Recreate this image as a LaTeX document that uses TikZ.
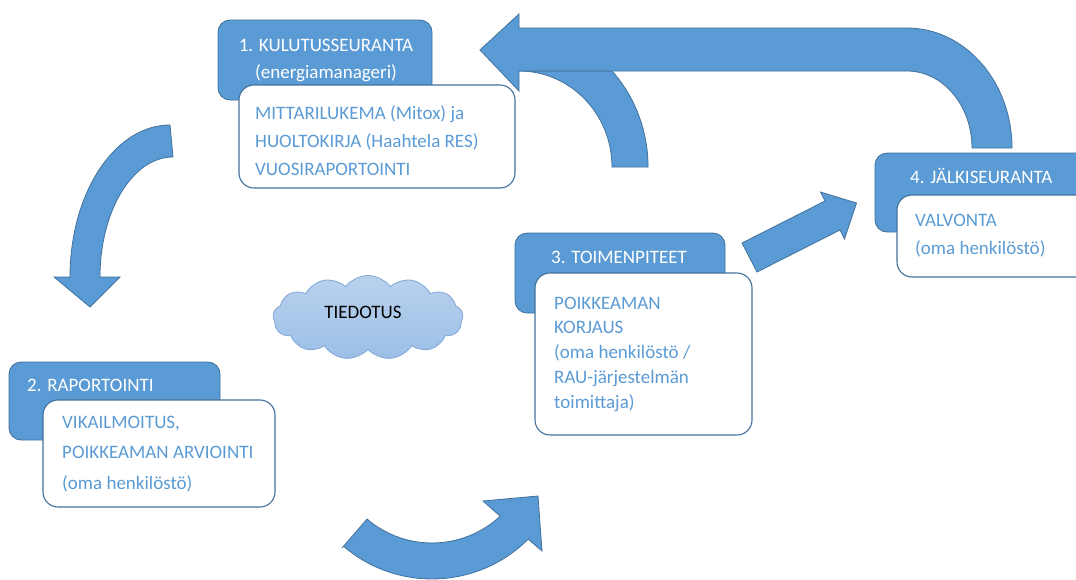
\documentclass[tikz,border=0pt]{standalone}
\usepackage{fontspec}
\setmainfont{Carlito}
\usetikzlibrary{shapes.symbols}
\definecolor{boxblue}{HTML}{5B9BD5}
\definecolor{boxedge}{HTML}{41719C}
\definecolor{txtblue}{HTML}{5B9BD5}
\definecolor{cloudtop}{HTML}{B9D2EE}
\definecolor{cloudbot}{HTML}{9CBFE6}
\definecolor{cloudedge}{HTML}{7FA6D6}
\begin{document}
\begin{tikzpicture}[x=1pt,y=-1pt,
  hdr/.style={rounded corners=12pt, fill=boxblue, draw=boxedge, line width=0.8pt, inner sep=0pt},
  wbox/.style={rounded corners=15pt, fill=white, draw=boxedge, line width=1.1pt, inner sep=0pt},
  blockarrow/.style={fill=boxblue, draw=boxedge, line width=0.8pt, line join=miter},
  htxt/.style={text=white, font=\fontsize{19}{23}\selectfont, inner sep=0pt},
  btxt/.style={text=txtblue, font=\fontsize{19}{23}\selectfont, inner sep=0pt, anchor=base west},
]
\clip (0,0) rectangle (1076,579);
\fill[white] (0,0) rectangle (1076,579);

% boxes
\node[hdr, minimum width=214pt, minimum height=80pt] (b1h) at (325,60) {};
\node[wbox, minimum width=276pt, minimum height=103pt] (b1w) at (377,136.5) {};
\node[hdr, minimum width=211pt, minimum height=78pt] (b2h) at (114.5,401) {};
\node[wbox, minimum width=232pt, minimum height=107pt] (b2w) at (159,453.5) {};
\node[hdr, minimum width=210pt, minimum height=80pt] (b3h) at (620,273) {};
\node[wbox, minimum width=217pt, minimum height=162pt] (b3w) at (643.5,354) {};
\node[hdr, minimum width=225pt, minimum height=79pt] (b4h) at (987.5,192.5) {};
\node[wbox, minimum width=213pt, minimum height=82pt] (b4w) at (1003.5,236) {};

% texts
\node[htxt, anchor=base] (h1a) at (326,51) {1. KULUTUSSEURANTA};
\node[htxt, anchor=base] (h1b) at (326,78) {(energiamanageri)};
\node[btxt] (t1a) at (255,119) {MITTARILUKEMA (Mitox) ja};
\node[btxt] (t1b) at (255,147) {HUOLTOKIRJA (Haahtela RES)};
\node[btxt] (t1c) at (255,175) {VUOSIRAPORTOINTI};

\node[htxt, anchor=base west] (h2a) at (27,391) {2. RAPORTOINTI};
\node[btxt] (t2a) at (62,428) {VIKAILMOITUS,};
\node[btxt] (t2b) at (62,458.5) {POIKKEAMAN ARVIOINTI};
\node[btxt] (t2c) at (62,489) {(oma henkilöstö)};

\node[htxt, anchor=base] (h3a) at (619,263) {3. TOIMENPITEET};
\node[btxt] (t3a) at (554,309) {POIKKEAMAN};
\node[btxt] (t3b) at (554,333) {KORJAUS};
\node[btxt] (t3c) at (554,358) {(oma henkilöstö /};
\node[btxt] (t3d) at (554,383) {RAU-järjestelmän};
\node[btxt] (t3e) at (554,408) {toimittaja)};

\node[htxt, anchor=base west] (h4a) at (910,183) {4. JÄLKISEURANTA};
\node[btxt] (t4a) at (915,226) {VALVONTA};
\node[btxt] (t4b) at (915,254) {(oma henkilöstö)};

% cloud
\node[cloud, cloud puffs=13, cloud puff arc=105, aspect=2.3, draw=cloudedge, top color=cloudtop, bottom color=cloudbot,
      minimum width=190pt, minimum height=84pt, inner sep=0pt, line width=0.8pt] (cl) at (368,317.5) {};
\node[inner sep=0pt, anchor=base, font=\fontsize{19}{23}\selectfont] (cltxt) at (363,318) {TIEDOTUS};

% arrow 1 -> 2
\draw[blockarrow] (170,125) arc[start angle=-90, end angle=-180, x radius=100, y radius=152]
  -- (54,277) -- (90,307) -- (120,277) -- (100,277)
  arc[start angle=180, end angle=270, x radius=73, y radius=120] -- cycle;

% arrow 2 -> 3
\coordinate (cB) at (432,443);
\draw[blockarrow] ([shift={(130.6:138)}]cB) -- ([shift={(130.5:100)}]cB)
  arc[start angle=130.5, end angle=47, radius=100]
  -- (483,501) -- (538,496) -- (542,551) -- ([shift={(45:136)}]cB)
  arc[start angle=45, end angle=130.6, radius=136] -- cycle;

% arrow 3 -> 4
\draw[blockarrow] (742,243) -- (825,201) -- (820.5,192) -- (856.5,203) -- (844.5,239)
  -- (840,230) -- (757,272) -- cycle;

% arm of the return arrow
\draw[blockarrow] (612,167) arc[start angle=0, end angle=-90, x radius=93, y radius=96]
  -- (612,71) arc[start angle=-43.9, end angle=0, x radius=129, y radius=138.5] -- cycle;

% return arrow 4 -> 1
\draw[blockarrow] (480,50) -- (519,14) -- (519,28) -- (907,28)
  arc[start angle=-90, end angle=0, x radius=105, y radius=120]
  -- (972,148)
  arc[start angle=0, end angle=-90, x radius=65, y radius=77]
  -- (519,71) -- (519,91) -- cycle;
\end{tikzpicture}
\end{document}
